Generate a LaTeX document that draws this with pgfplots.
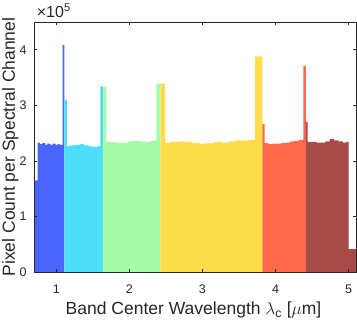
\documentclass[border=0pt]{standalone}
\usepackage{fontspec}
\setmainfont{Liberation Sans}
\usepackage{pgfplots}
\pgfplotsset{compat=1.18}

\definecolor{cblue}{RGB}{74,100,255}
\definecolor{ccyan}{RGB}{77,221,253}
\definecolor{cgreen}{RGB}{166,252,166}
\definecolor{cyellow}{RGB}{255,221,74}
\definecolor{corange}{RGB}{255,106,74}
\definecolor{cdred}{RGB}{166,74,74}
\definecolor{axgray}{RGB}{38,38,38}

\begin{document}
\begin{tikzpicture}
\begin{axis}[
  name=ax,
  scale only axis,
  width=321.7pt, height=250pt,
  xmin=0.7, xmax=5.1,
  ymin=0, ymax=4.5e5,
  xtick={1,2,3,4,5},
  ytick={0,1e5,2e5,3e5,4e5},
  yticklabels={0,1,2,3,4},
  scaled y ticks=false,
  tick align=inside,
  major tick length=3pt,
  axis line style={axgray, line width=0.6pt},
  every tick/.style={axgray, line width=0.6pt},
  ticklabel style={font=\fontsize{12.5}{14}\selectfont, text=axgray, inner sep=0pt},
  xticklabel style={anchor=base, yshift=-21.3pt},
  yticklabel style={anchor=east, xshift=-7.6pt},
  /pgf/number format/assume math mode=true,
  xlabel={Band Center Wavelength $\lambda$\textsubscript{c} [$\mu$m]},
  ylabel={Pixel Count per Spectral Channel},
  label style={font=\fontsize{17.5}{19}\selectfont, text=axgray, inner sep=0pt},
  xlabel style={at={(axis description cs:0.495,-0.172)}, anchor=base},
  ylabel style={at={(axis description cs:-0.0601,0.5)}, anchor=base},
  axis on top,
  clip=false,
]
\addplot[const plot, fill=cblue, draw=none] coordinates {
  (0.71,1.65e5) (0.745,2.33e5) (0.78,2.30e5) (0.81,2.32e5) (0.85,2.29e5)
  (0.88,2.31e5) (0.92,2.29e5) (0.95,2.31e5) (0.99,2.29e5) (1.02,2.30e5)
  (1.05,2.29e5) (1.086,4.09e5) (1.11,4.09e5)
} \closedcycle;
\addplot[const plot, fill=ccyan, draw=none] coordinates {
  (1.11,3.10e5) (1.145,2.27e5) (1.20,2.28e5) (1.26,2.29e5) (1.32,2.30e5)
  (1.38,2.28e5) (1.44,2.26e5) (1.50,2.25e5) (1.56,2.26e5) (1.605,3.34e5)
  (1.637,3.34e5)
} \closedcycle;
\addplot[const plot, fill=cgreen, draw=none] coordinates {
  (1.637,3.33e5) (1.687,2.34e5) (1.75,2.34e5) (1.82,2.32e5) (1.90,2.33e5)
  (1.98,2.35e5) (2.06,2.36e5) (2.14,2.35e5) (2.22,2.34e5) (2.28,2.36e5)
  (2.33,2.37e5) (2.37,3.39e5) (2.425,3.39e5)
} \closedcycle;
\addplot[const plot, fill=cyellow, draw=none] coordinates {
  (2.425,3.39e5) (2.49,2.33e5) (2.56,2.34e5) (2.66,2.35e5) (2.76,2.34e5)
  (2.86,2.32e5) (2.96,2.31e5) (3.06,2.32e5) (3.16,2.34e5) (3.26,2.33e5)
  (3.36,2.35e5) (3.46,2.37e5) (3.56,2.37e5) (3.64,2.38e5) (3.72,3.88e5)
  (3.818,3.88e5)
} \closedcycle;
\addplot[const plot, fill=corange, draw=none] coordinates {
  (3.818,2.66e5) (3.85,2.32e5) (3.90,2.30e5) (3.96,2.31e5) (4.02,2.31e5)
  (4.08,2.32e5) (4.14,2.33e5) (4.20,2.35e5) (4.26,2.36e5) (4.32,2.38e5)
  (4.38,3.71e5) (4.415,3.71e5)
} \closedcycle;
\addplot[const plot, fill=cdred, draw=none] coordinates {
  (4.415,2.70e5) (4.44,2.34e5) (4.50,2.34e5) (4.56,2.33e5) (4.62,2.33e5)
  (4.68,2.35e5) (4.74,2.39e5) (4.80,2.37e5) (4.86,2.35e5) (4.92,2.33e5)
  (4.96,2.34e5) (5.0,0.41e5) (5.1,0.41e5)
} \closedcycle;
\end{axis}
\node[anchor=base west, inner sep=0pt, text=axgray]
  at ([xshift=2.4pt, yshift=4.7pt]ax.north west) {\fontsize{16}{18}\selectfont ×10\textsuperscript{5}};
\pgfresetboundingbox
\path[use as bounding box] ([xshift=-34.3pt, yshift=-53pt]ax.south west) rectangle ([xshift=1pt, yshift=22pt]ax.north east);
\end{tikzpicture}
\end{document}
